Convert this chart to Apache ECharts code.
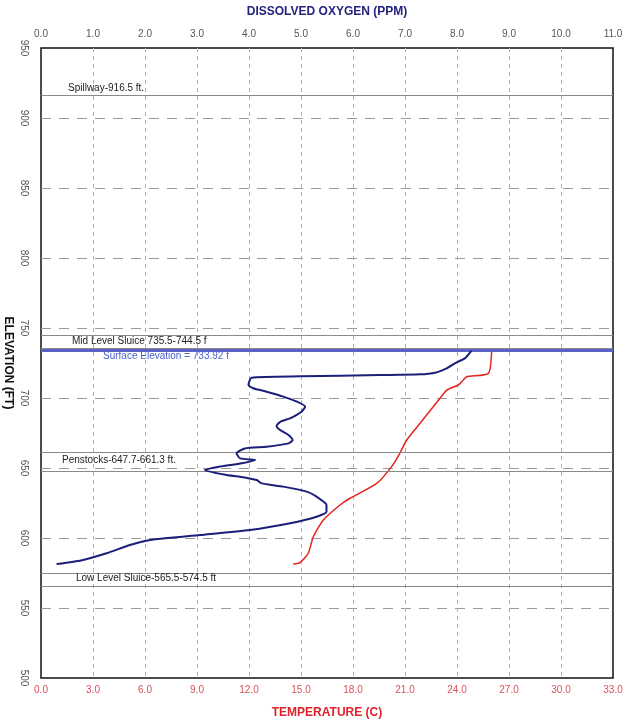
<!DOCTYPE html>
<html>
<head>
<meta charset="utf-8">
<script src="https://cdn.jsdelivr.net/npm/echarts@6/dist/echarts.min.js"></script>
<style>html,body{margin:0;padding:0;background:#fff;}#c{width:629px;height:723px;}</style>
</head>
<body>
<div id="c"></div>
<script>
// Dissolved oxygen profile: [DO ppm, elevation ft]
const doProfile = [
  [8.28,733.9],[8.15,728.3],[7.96,724.8],[7.80,721.2],[7.58,718.1],[7.29,716.9],[6.52,716.4],
  [5.0,715.5],[4.05,714.5],[3.99,709.3],[4.08,707.0],[4.34,704.5],[4.66,701.0],[4.92,697.4],
  [5.08,693.8],[5.01,690.2],[4.79,685.5],[4.60,683.0],[4.53,680.0],[4.60,677.1],[4.76,673.6],
  [4.84,670.0],[4.76,667.6],[4.34,665.2],[3.92,664.0],[3.76,660.5],[3.83,656.9],[4.12,655.7],
  [3.86,653.4],[3.44,651.0],[3.15,648.6],[3.57,645.0],[3.83,643.8],[4.15,641.4],[4.24,639.0],
  [4.66,636.7],[5.11,633.1],[5.30,629.5],[5.49,623.6],[5.49,618.8],[5.30,615.2],[4.79,610.5],
  [4.02,605.7],[3.06,602.1],[2.10,598.6],[1.71,595.0],[1.26,589.1],[0.75,583.8],[0.30,581.4]
];
// Temperature profile: [temperature C, elevation ft]
const tempProfile = [
  [26.0,733.9],[25.81,717.6],[24.56,715.2],[24.27,711.6],[24.08,709.3],[23.41,705.7],
  [23.02,699.8],[22.63,693.8],[21.87,681.9],[21.10,670.0],[20.70,660.5],[20.23,651.0],
  [19.37,639.0],[17.83,628.4],[17.25,623.6],[16.29,612.9],[15.71,600.9],[15.42,589.1],
  [14.94,582.4],[14.56,581.4]
];
// Reference elevations
const refElev = [916.5, 744.5, 735.5, 661.3, 647.7, 574.5, 565.5];
const surfaceElev = 733.92;
const refLabels = {
  916.5: 'Spillway-916.5 ft.',
  744.5: 'Mid Level Sluice 735.5-744.5 f',
  661.3: 'Penstocks-647.7-661.3 ft.',
  574.5: 'Low Level Sluice-565.5-574.5 ft'
};
const surfaceLabel = 'Surface Elevation = 733.92 f';

const FONT = '"Liberation Sans", Arial, sans-serif';
const chart = echarts.init(document.getElementById('c'));

const labelOffsets = {916.5:[27,2], 744.5:[31,1], 661.3:[21,3], 574.5:[35,0]};
const markData = refElev.map(v => {
  const item = {yAxis: v, lineStyle: {color: '#8a8a8a', width: 1, type: 'solid'}};
  if (refLabels[v]) {
    item.label = {show: true, formatter: refLabels[v],
      position: v === 916.5 ? 'insideStartTop' : 'insideStartBottom',
      distance: labelOffsets[v], color: '#222', fontSize: 10, fontFamily: FONT};
  } else {
    item.label = {show: false};
  }
  return item;
});
markData.push({yAxis: surfaceElev, lineStyle: {color: '#5a62c8', width: 3, type: 'solid'},
  label: {show: true, formatter: surfaceLabel, position: 'insideStartBottom', distance: [62, 1],
    color: '#4a60d0', fontSize: 10, fontFamily: FONT}});

chart.setOption({
  animation: false,
  backgroundColor: '#fff',
  grid: {left: 41, right: 16, top: 48, bottom: 45, containLabel: false, outerBoundsMode: 'none',
    show: true, borderColor: '#111', borderWidth: 1.5, backgroundColor: 'transparent'},
  xAxis: [
    {type: 'value', position: 'top', min: 0, max: 11, interval: 1,
     name: 'DISSOLVED OXYGEN (PPM)', nameLocation: 'middle', nameGap: 30,
     nameTextStyle: {color: '#23237e', fontWeight: 'bold', fontSize: 12, fontFamily: FONT},
     axisLine: {show: false}, axisTick: {show: false}, splitLine: {show: false},
     axisLabel: {color: '#555', fontSize: 10, margin: 9, fontFamily: FONT, formatter: v => v.toFixed(1)}},
    {type: 'value', position: 'bottom', min: 0, max: 33, interval: 3,
     name: 'TEMPERATURE (C)', nameLocation: 'middle', nameGap: 29,
     nameTextStyle: {color: '#e0202a', fontWeight: 'bold', fontSize: 12, fontFamily: FONT},
     axisLine: {show: false}, axisTick: {show: false},
     splitLine: {show: true, showMinLine: false, showMaxLine: false, lineStyle: {color: '#b0b0b0', width: 1, type: [4, 4]}},
     axisLabel: {color: '#d9505c', fontSize: 10, margin: 7, fontFamily: FONT, formatter: v => v.toFixed(1)}}
  ],
  yAxis: {type: 'value', min: 500, max: 950, interval: 50,
    name: 'ELEVATION (FT)', nameLocation: 'middle', nameGap: 27, nameRotate: -90, nameMoveOverlap: false,
    nameTextStyle: {color: '#111', fontWeight: 'bold', fontSize: 12, fontFamily: FONT},
    axisLine: {show: false}, axisTick: {show: false},
    splitLine: {show: true, showMinLine: false, showMaxLine: false, lineStyle: {color: '#9a9a9a', width: 1, type: [10, 8]}},
    axisLabel: {color: '#555', fontSize: 10, rotate: -90, margin: 12, fontFamily: FONT}},
  series: [
    {type: 'line', name: 'DO', xAxisIndex: 0, data: doProfile, showSymbol: false, smooth: 0.2,
     lineStyle: {color: '#1c1f7a', width: 2}, z: 5,
     markLine: {silent: true, symbol: 'none', animation: false, data: markData}},
    {type: 'line', name: 'Temp', xAxisIndex: 1, data: tempProfile, showSymbol: false, smooth: 0.2,
     lineStyle: {color: '#e3241f', width: 1.5}, z: 4}
  ]
});
</script>
</body>
</html>
